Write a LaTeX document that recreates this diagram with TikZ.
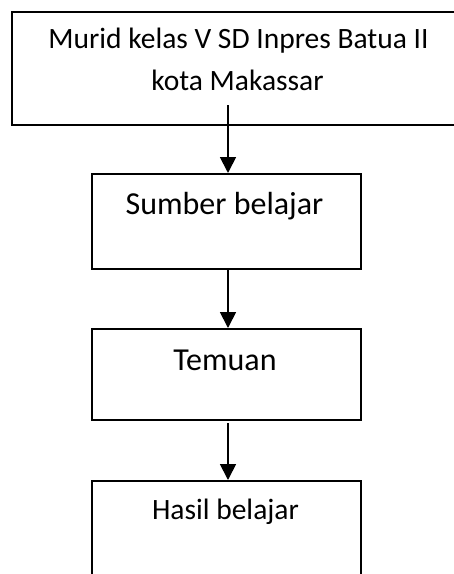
\documentclass[tikz,border=0pt]{standalone}
\usepackage{fontspec}
\setmainfont{Carlito}
\usetikzlibrary{arrows.meta}
\begin{document}
\begin{tikzpicture}[x=1pt,y=-1pt,
  boxstyle/.style={draw=black,line width=1.8pt,rectangle,inner sep=0pt,anchor=north west},
  bigtext/.style={inner sep=0pt,anchor=base,font=\fontsize{32}{38}\selectfont},
  smalltext/.style={inner sep=0pt,anchor=base,font=\fontsize{29.5}{42}\selectfont},
  flowarrow/.style={line width=1.8pt,-{Triangle[length=16pt,width=16pt]}}]
\useasboundingbox (0,0) rectangle (454,574);
\clip (0,0) rectangle (454,574);
% boxes
\node[boxstyle,minimum width=470pt,minimum height=113pt] (b1) at (11,11) {};
\node[boxstyle,minimum width=269pt,minimum height=95pt] (b2) at (91,173) {};
\node[boxstyle,minimum width=269pt,minimum height=91pt] (b3) at (91,328) {};
\node[boxstyle,minimum width=269pt,minimum height=130pt] (b4) at (91,480) {};
% texts
\node[smalltext] (t1a) at (238.5,48) {Murid kelas V SD Inpres Batua II};
\node[smalltext] (t1b) at (237.5,90) {kota Makassar};
\node[bigtext] (t2) at (224.5,214) {Sumber belajar};
\node[bigtext] (t3) at (225,370) {Temuan};
\node[smalltext] (t4) at (225.5,519) {Hasil belajar};
% arrows
\coordinate (a1s) at (228,105);
\coordinate (a2s) at (228,268);
\coordinate (a3s) at (228,423);
\draw[flowarrow] (a1s) -- (a1s |- b2.north);
\draw[flowarrow] (a2s) -- (a2s |- b3.north);
\draw[flowarrow] (a3s) -- (a3s |- b4.north);
\end{tikzpicture}
\end{document}
